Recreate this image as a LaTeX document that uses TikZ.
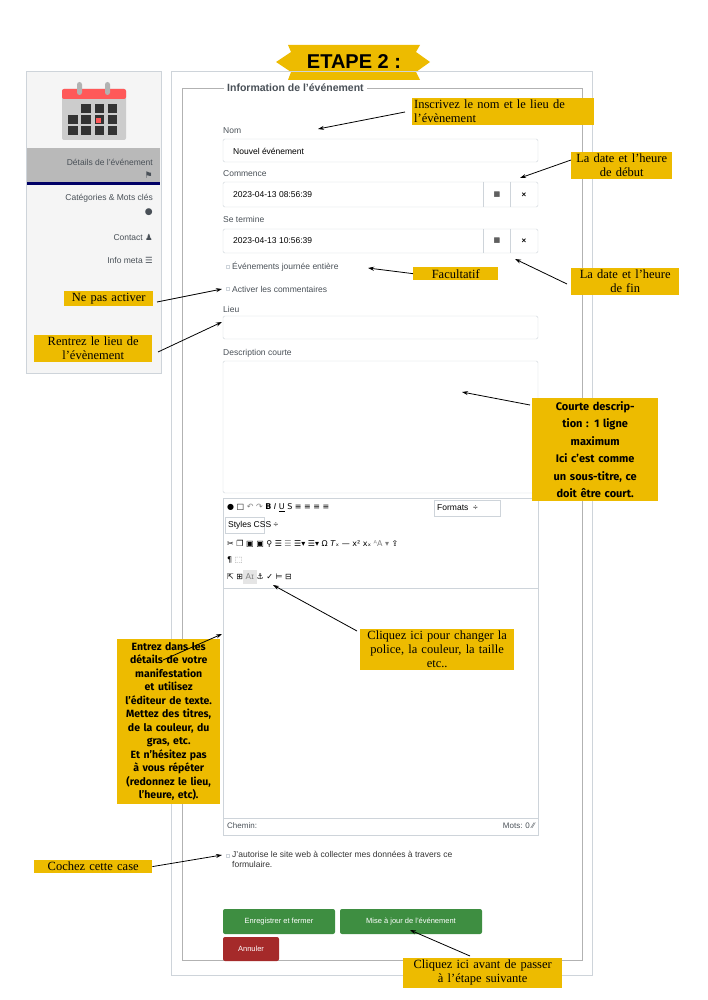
\documentclass[tikz,border=0pt]{standalone}
\usepackage{fontspec}
\setmainfont{Liberation Serif}
\setsansfont{Liberation Sans}
\newfontfamily\dv{DejaVu Sans}
\newfontfamily\fira{Fira Sans}
\usetikzlibrary{arrows.meta}
\definecolor{ann}{HTML}{EDBB00}
\definecolor{brd}{HTML}{CED4DA}
\definecolor{txt}{HTML}{495057}
\definecolor{grn}{HTML}{3E8E41}
\definecolor{rd}{HTML}{A52A2A}
\tikzset{
 ann/.style={fill=ann,inner sep=2pt,font=\fontsize{12.5}{14}\selectfont,align=center},
 annb/.style={fill=ann,inner sep=3pt,font=\fira\bfseries\fontsize{10.5}{13.5}\selectfont,align=center},
 arr/.style={-{Stealth[length=6pt,width=4pt]},line width=0.8pt},
 lbl/.style={anchor=west,font=\sffamily\fontsize{8.5}{10}\selectfont,text=txt,inner sep=0pt},
 inp/.style={draw=brd,fill=white,rounded corners=1.5pt},
 side/.style={anchor=east,font=\sffamily\fontsize{8.5}{10}\selectfont,text=txt,inner sep=0pt},
 btn/.style={rounded corners=2pt,text=white,font=\sffamily\fontsize{7.5}{8}\selectfont,inner sep=0pt},
}
\begin{document}
\begin{tikzpicture}[x=1pt,y=-1pt]
\useasboundingbox (0,0) rectangle (707,1000);
% title
\fill[ann] (288,45) -- (420,45) -- (416,52) -- (430,62) -- (416,72) -- (420,80) -- (288,80) -- (291,72) -- (276,62) -- (291,52) -- cycle;
\node (title) at (354,62) {\fontsize{20}{20}\selectfont\sffamily\bfseries ETAPE 2 :};
% sidebar
\draw[brd,fill=gray!8] (26,71) rectangle (161,373);
\fill[gray!55] (27,148) rectangle (160,183);
\fill[blue!40!black] (27,182) rectangle (160,185);
% calendar icon
\fill[gray!40,rounded corners=2pt] (62,89) rectangle (126,140);
\fill[red!65,rounded corners=2pt] (62,89) rectangle (126,99);
\fill[gray!60,rounded corners=2.5pt] (77,82) rectangle (82,95);
\fill[gray!60,rounded corners=2.5pt] (105,82) rectangle (110,95);
\foreach \i in {0,1,2,3}{\foreach \j in {0,1,2}{\fill[black!80] (68+\i*13.3,104+\j*11) rectangle ++(9.5,9);}}
\fill[gray!40] (68,104) rectangle ++(9.5,9);
\fill[red!65] (96,118) rectangle ++(5,5);
\node[side] (s1) at (153,162) {Détails de l'événement};
\node[side] (s1i) at (153,175) {\dv\fontsize{9}{9}\selectfont ⚑};
\node[side] (s2) at (153,198) {Catégories \& Mots clés};
\node[side] (s2i) at (153,212) {\dv\fontsize{9}{9}\selectfont ●};
\node[side] (s3) at (153,237) {Contact \dv ♟};
\node[side] (s4) at (153,260) {Info meta \dv ☰};
% main boxes
\draw[brd] (171,71) rectangle (592,975);
\draw[gray!60] (182,88) rectangle (582,960);
\node[fill=white,anchor=west,font=\sffamily\bfseries\fontsize{10.5}{11}\selectfont,text=txt,inner sep=3pt] (legend) at (224,88) {Information de l'événement};
% fields
\node[lbl] (lnom) at (223,131) {Nom};
\draw[inp] (223,139) rectangle (538,162);
\node[lbl,text=black] (vnom) at (233,151) {Nouvel événement};
\node[lbl] (lcom) at (223,174) {Commence};
\draw[inp] (223,182) rectangle (538,207);
\draw[brd] (483,182) -- (483,207) (510,182) -- (510,207);
\node[lbl,text=black] (vcom) at (233,195) {2023-04-13 08:56:39};
\node[font=\dv\fontsize{7}{7}\selectfont] (c1) at (497,195) {▦};
\node[font=\sffamily\bfseries\fontsize{8}{8}\selectfont] (x1) at (524,195) {×};
\node[lbl] (lter) at (223,219) {Se termine};
\draw[inp] (223,229) rectangle (538,253);
\draw[brd] (483,229) -- (483,253) (510,229) -- (510,253);
\node[lbl,text=black] (vter) at (233,241) {2023-04-13 10:56:39};
\node[font=\dv\fontsize{7}{7}\selectfont] (c2) at (497,241) {▦};
\node[font=\sffamily\bfseries\fontsize{8}{8}\selectfont] (x2) at (524,241) {×};
\draw[brd] (226,265) rectangle ++(3,3);
\node[lbl] (cb1) at (232,267) {Événements journée entière};
\draw[brd] (226,287) rectangle ++(3,3);
\node[lbl] (cb2) at (232,289) {Activer les commentaires};
\node[lbl] (llieu) at (223,309) {Lieu};
\draw[inp] (223,316) rectangle (538,339);
\node[lbl] (ldesc) at (223,353) {Description courte};
\draw[inp] (223,361) rectangle (538,493);
% editor
\draw[brd] (223,498) rectangle (538,835);
\draw[brd] (223,588) -- (538,588) (223,818) -- (538,818);
\node[anchor=west,inner sep=0pt,font=\dv\fontsize{8}{8}\selectfont] (tb1) at (227,508) {● □ \textcolor{gray}{↶ ↷} \textbf{B} \textit{I} \underline{U} S ≡ ≡ ≡ ≡};
\draw[brd] (434,500) rectangle (500,516);
\node[lbl,text=black] (fmt) at (437,508) {Formats \ ÷};
\draw[brd] (225,517) rectangle (264,533);
\node[lbl,text=black] (css) at (228,525) {Styles CSS ÷};
\node[anchor=west,inner sep=0pt,font=\dv\fontsize{8}{8}\selectfont] (tb3) at (227,544) {✂ ❐ ▣ ▣ ⚲ ☰ \textcolor{gray}{☰} ☰▾ ☰▾ Ω \textit{T}ₓ — x² xₓ \textcolor{gray}{ᴬA ▾} ⇪};
\node[anchor=west,inner sep=0pt,font=\dv\fontsize{8}{8}\selectfont] (tb4) at (227,560) {¶ \textcolor{gray}{⬚}};
\fill[gray!20] (243,570) rectangle (257,584);
\node[anchor=west,inner sep=0pt,font=\dv\fontsize{8}{8}\selectfont] (tb5) at (227,577) {⇱ ⊞ \textcolor{gray}{Aɪ} ⚓ ✓ ⊨ ⊟};
\node[lbl,font=\sffamily\fontsize{8}{8}\selectfont] (chem) at (227,826) {Chemin:};
\node[lbl,anchor=east,font=\sffamily\fontsize{8}{8}\selectfont] (mots) at (535,826) {Mots: 0 ⁄⁄};
\draw[brd] (226,854) rectangle ++(3,3);
\node[lbl,text=black!80,align=left,anchor=north west] (aut) at (232,851) {J'autorise le site web à collecter mes données à travers ce\\formulaire.};
% buttons
\fill[btn,fill=grn] (223,909) rectangle (335,934);
\node[btn] (b1) at (279,921.5) {Enregistrer et fermer};
\fill[btn,fill=grn] (340,909) rectangle (482,934);
\node[btn] (b2) at (411,921.5) {Mise à jour de l'événement};
\fill[btn,fill=rd] (223,937) rectangle (279,961);
\node[btn] (b3) at (251,949) {Annuler};
% annotations
\coordinate (t1) at (318,129); \coordinate (t2) at (520,178); \coordinate (t3) at (368,268);
\coordinate (t4) at (515,259); \coordinate (t5) at (222,289); \coordinate (t6) at (222,322);
\coordinate (t7) at (462,392); \coordinate (t8) at (273,585); \coordinate (t9) at (222,634);
\coordinate (t10) at (222,855); \coordinate (t11) at (410,930);
\node[ann,align=left,text width=178pt,anchor=north west] (a1) at (412,98) {Inscrivez le nom et le lieu de\\l’évènement};
\node[ann,anchor=north west,text width=97pt] (a2) at (571,152) {La date et l’heure\\de début};
\node[ann,anchor=north west,text width=81pt] (a3) at (413,267) {Facultatif};
\node[ann,anchor=north west,text width=104pt] (a4) at (571,268) {La date et l’heure\\de fin};
\node[ann,anchor=north west,text width=85pt] (a5) at (64,291) {Ne pas activer};
\node[ann,anchor=north west,text width=114pt] (a6) at (34,335) {Rentrez le lieu de\\l’évènement};
\node[annb,anchor=north west,text width=120pt,font=\fira\bfseries\fontsize{11}{17.5}\selectfont] (a7) at (532,398) {Courte descrip-\\tion : 1 ligne\\maximum\\Ici c’est comme\\un sous-titre, ce\\doit être court.};
\node[ann,anchor=north west,text width=150pt] (a8) at (360,629) {Cliquez ici pour changer la\\police, la couleur, la taille\\etc..};
\node[annb,anchor=north west,text width=97pt] (a9) at (117,639) {Entrez dans les\\détails de votre\\manifestation\\et utilisez\\l’éditeur de texte.\\Mettez des titres,\\de la couleur, du\\gras, etc.\\Et n’hésitez pas\\à vous répéter\\(redonnez le lieu,\\l’heure, etc).};
\node[ann,anchor=north west,text width=114pt] (a10) at (34,860) {Cochez cette case};
\node[ann,anchor=north west,text width=155pt] (a11) at (403,958) {Cliquez ici avant de passer\\à l’étape suivante};
\draw[arr] (405,112) -- (t1);
\draw[arr] (571,160) -- (t2);
\draw[arr] (a3.west) -- (t3);
\draw[arr] (567,284) -- (t4);
\draw[arr] (157,302) -- (t5);
\draw[arr] (158,352) -- (t6);
\draw[arr] (530,405) -- (t7);
\draw[arr] (357,631) -- (t8);
\draw[arr] (163,660) -- (t9);
\draw[arr] (a10.east) -- (t10);
\draw[arr] (470,956) -- (t11);
\end{tikzpicture}
\end{document}
